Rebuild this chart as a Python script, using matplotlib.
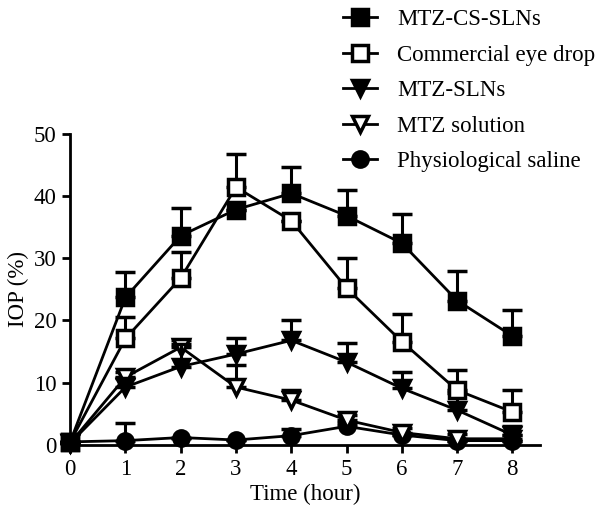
import matplotlib
matplotlib.use('Agg')
import matplotlib.pyplot as plt
from matplotlib.lines import Line2D
import numpy as np

plt.rcParams['font.family'] = ['Liberation Serif', 'DejaVu Serif']

time_h = [0, 1, 2, 3, 4, 5, 6, 7, 8]

# mean IOP (%) and upper error bar for each formulation
cs_sln = [0.5, 23.7, 33.6, 37.8, 40.4, 36.8, 32.4, 23.2, 17.5]
cs_sln_err = [0.0, 4.0, 4.5, 0.0, 4.2, 4.2, 4.7, 4.8, 4.2]
eye_drop = [0.5, 17.1, 26.8, 41.4, 36.0, 25.2, 16.6, 8.8, 5.3]
eye_drop_err = [0.0, 3.4, 4.2, 5.3, 0.0, 4.8, 4.5, 3.2, 3.5]
sln = [0.3, 9.3, 12.6, 14.6, 16.8, 13.3, 9.1, 5.6, 1.6]
sln_err = [0.0, 1.5, 3.6, 2.5, 3.2, 3.0, 2.6, 2.7, 1.5]
solution = [0.3, 10.9, 15.7, 9.3, 7.2, 4.0, 2.0, 1.0, 1.0]
solution_err = [0.0, 0.8, 1.2, 3.6, 1.6, 0.8, 0.8, 0.8, 0.6]
saline = [0.5, 0.7, 1.2, 0.8, 1.5, 3.0, 1.6, 0.7, 0.7]
saline_err = [0.0, 2.9, 0.0, 0.0, 1.0, 0.5, 0.0, 0.0, 0.0]

labels = ['MTZ-CS-SLNs', 'Commercial eye drop', 'MTZ-SLNs',
          'MTZ solution', 'Physiological saline']

fig = plt.figure(figsize=(6.0, 5.19), dpi=100)
ax = fig.add_axes([0.117, 0.1426, 0.783, 0.600])

series = [
    (cs_sln, cs_sln_err, 's', 'black', 12),
    (eye_drop, eye_drop_err, 's', 'white', 12),
    (sln, sln_err, 'v', 'black', 12),
    (solution, solution_err, 'v', 'white', 12),
    (saline, saline_err, 'o', 'black', 11),
]

# draw saline first so the squares end up on top
for i in reversed(range(len(series))):
    vals, err, mk, fc, ms = series[i]
    lower = np.zeros(len(err))
    ax.errorbar(time_h, vals, yerr=[lower, err], color='black',
                linewidth=2.0, marker=mk, markersize=ms,
                markerfacecolor=fc, markeredgecolor='black',
                markeredgewidth=2.5, ecolor='black', elinewidth=2.2,
                capsize=7, capthick=2.5, clip_on=False,
                zorder=3 + (len(series) - i))

ax.set_xlim(0, 8.5)
ax.set_ylim(0, 50)
ax.set_xticks(time_h)
ax.set_yticks([0, 10, 20, 30, 40, 50])
ax.tick_params(axis='both', direction='out', length=6, width=2,
               labelsize=16.5, pad=4)
for side in ['top', 'right']:
    ax.spines[side].set_visible(False)
for side in ['left', 'bottom']:
    ax.spines[side].set_linewidth(2)

ax.set_xlabel('Time (hour)', fontsize=16.5, labelpad=3)
ax.set_ylabel('IOP (%)', fontsize=16.5, labelpad=3)

leg_handles = []
for vals, err, mk, fc, ms in series:
    leg_handles.append(Line2D([], [], color='black', linewidth=2.0, marker=mk,
                              markersize=11, markerfacecolor=fc,
                              markeredgecolor='black', markeredgewidth=2.5))

fig.legend(leg_handles, labels, loc='upper left',
           bbox_to_anchor=(0.564, 0.991), frameon=False, fontsize=16.5,
           handlelength=1.5, handletextpad=0.87, labelspacing=0.63,
           borderpad=0.2, borderaxespad=0)

fig.savefig('out.png', dpi=100)
